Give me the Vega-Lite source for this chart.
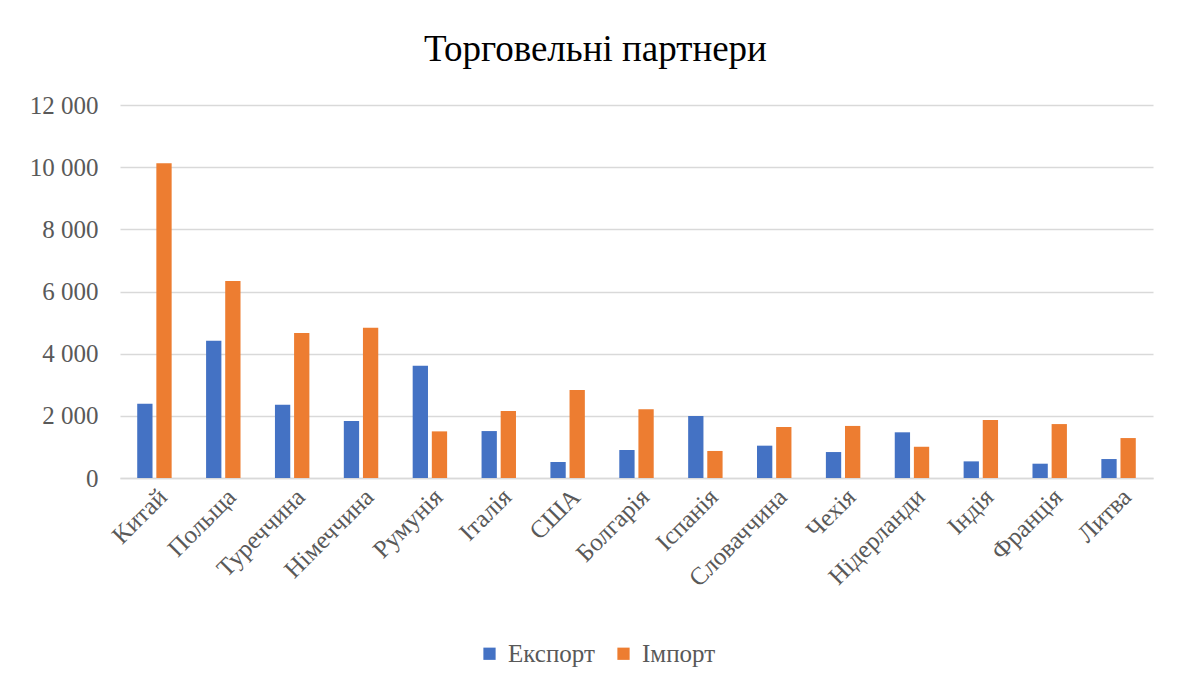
{
  "$schema": "https://vega.github.io/schema/vega-lite/v6.json",
  "width": 1033,
  "height": 373,
  "autosize": {"type": "none"},
  "padding": {"left": 120, "top": 105, "right": 33, "bottom": 208},
  "background": "white",
  "title": {
    "text": "Торговельні партнери",
    "anchor": "middle",
    "frame": "group",
    "offset": 24,
    "dx": -41,
    "font": "Liberation Serif",
    "fontSize": 37,
    "fontWeight": "normal",
    "color": "#000000"
  },
  "data": {
    "values": [
      {"country": "Китай", "type": "Експорт", "value": 2390},
      {"country": "Китай", "type": "Імпорт", "value": 10125},
      {"country": "Польща", "type": "Експорт", "value": 4415},
      {"country": "Польща", "type": "Імпорт", "value": 6340},
      {"country": "Туреччина", "type": "Експорт", "value": 2360},
      {"country": "Туреччина", "type": "Імпорт", "value": 4665},
      {"country": "Німеччина", "type": "Експорт", "value": 1835},
      {"country": "Німеччина", "type": "Імпорт", "value": 4835},
      {"country": "Румунія", "type": "Експорт", "value": 3615},
      {"country": "Румунія", "type": "Імпорт", "value": 1500},
      {"country": "Італія", "type": "Експорт", "value": 1510},
      {"country": "Італія", "type": "Імпорт", "value": 2155},
      {"country": "США", "type": "Експорт", "value": 515},
      {"country": "США", "type": "Імпорт", "value": 2830},
      {"country": "Болгарія", "type": "Експорт", "value": 900},
      {"country": "Болгарія", "type": "Імпорт", "value": 2210},
      {"country": "Іспанія", "type": "Експорт", "value": 1995},
      {"country": "Іспанія", "type": "Імпорт", "value": 870},
      {"country": "Словаччина", "type": "Експорт", "value": 1040},
      {"country": "Словаччина", "type": "Імпорт", "value": 1640},
      {"country": "Чехія", "type": "Експорт", "value": 835},
      {"country": "Чехія", "type": "Імпорт", "value": 1675},
      {"country": "Нідерланди", "type": "Експорт", "value": 1470},
      {"country": "Нідерланди", "type": "Імпорт", "value": 1005},
      {"country": "Індія", "type": "Експорт", "value": 535},
      {"country": "Індія", "type": "Імпорт", "value": 1865},
      {"country": "Франція", "type": "Експорт", "value": 460},
      {"country": "Франція", "type": "Імпорт", "value": 1735},
      {"country": "Литва", "type": "Експорт", "value": 610},
      {"country": "Литва", "type": "Імпорт", "value": 1285}
    ]
  },
  "mark": {"type": "bar"},
  "encoding": {
    "x": {
      "field": "country",
      "type": "nominal",
      "sort": null,
      "scale": {"paddingInner": 0.5, "paddingOuter": 0.25},
      "axis": {
        "title": null,
        "labelAngle": -45,
        "labelFont": "Liberation Serif",
        "labelFontSize": 25,
        "labelColor": "#595959",
        "ticks": false,
        "domain": true,
        "domainColor": "#D9D9D9",
        "domainWidth": 1.5,
        "labelPadding": 6,
        "grid": false
      }
    },
    "xOffset": {
      "field": "type",
      "type": "nominal",
      "sort": ["Експорт", "Імпорт"],
      "scale": {"paddingInner": 0.2}
    },
    "y": {
      "field": "value",
      "type": "quantitative",
      "scale": {"domain": [0, 12000]},
      "axis": {
        "title": null,
        "values": [0, 2000, 4000, 6000, 8000, 10000, 12000],
        "labelExpr": "replace(format(datum.value, ','), ',', ' ')",
        "labelFont": "Liberation Serif",
        "labelFontSize": 25,
        "labelColor": "#595959",
        "ticks": false,
        "domain": false,
        "gridColor": "#D9D9D9",
        "gridWidth": 1.5,
        "labelPadding": 22
      }
    },
    "color": {
      "field": "type",
      "type": "nominal",
      "scale": {"domain": ["Експорт", "Імпорт"], "range": ["#4472C4", "#ED7D31"]},
      "legend": {
        "title": null,
        "orient": "none",
        "direction": "horizontal",
        "legendX": 357,
        "legendY": 536,
        "symbolType": "square",
        "symbolSize": 150,
        "symbolStrokeWidth": 0,
        "labelFont": "Liberation Serif",
        "labelFontSize": 25,
        "labelColor": "#595959",
        "columnPadding": 16,
        "labelOffset": 6
      }
    }
  },
  "config": {
    "view": {"stroke": null}
  }
}
